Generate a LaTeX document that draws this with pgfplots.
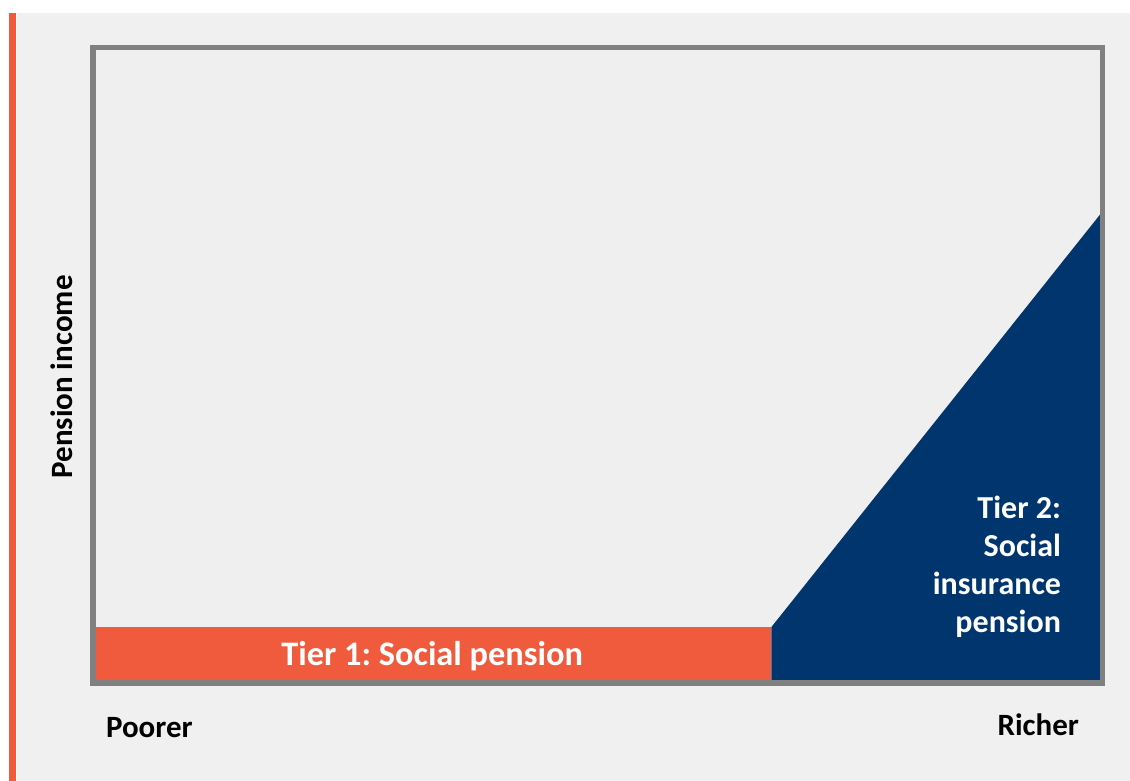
\documentclass[border=0pt]{standalone}
\usepackage{pgfplots}
\pgfplotsset{compat=1.18}
\usepackage{fontspec}
\setmainfont{Carlito}
\frenchspacing
\definecolor{tierorange}{RGB}{240,91,61}
\definecolor{tiernavy}{RGB}{0,53,110}
\definecolor{panelgray}{RGB}{240,240,240}
\definecolor{innergray}{RGB}{239,239,239}
\definecolor{bordergray}{RGB}{128,128,128}
\begin{document}
\begin{tikzpicture}[x=1pt,y=1pt]
\fill[white] (0,0) rectangle (565,390.5);
\fill[panelgray] (8.5,0) rectangle (565,384);
\fill[tierorange] (4.5,0) rectangle (8,384);
\begin{axis}[
  at={(46.5pt,49pt)}, anchor=south west,
  scale only axis, width=504.75pt, height=317.75pt,
  xmin=0, xmax=100, ymin=0, ymax=100,
  xtick=\empty, ytick=\empty,
  axis on top=true,
  axis line style={bordergray, line width=2.6pt},
  axis background/.style={fill=innergray},
  clip=true,
]
\addplot[fill=tierorange, draw=none] coordinates {(0,8.8) (67.2,8.8)} \closedcycle;
\addplot[fill=tiernavy, draw=none] coordinates {(67.2,8.8) (100,74.2)} \closedcycle;
\node[text=white, font=\bfseries\fontsize{17.2}{20}\selectfont] at (axis cs:33.6,4.2) {Tier 1: Social pension};
\end{axis}
\node[text=white, font=\bfseries\fontsize{16}{19}\selectfont, align=right, anchor=east] at (534,107) {Tier 2:\\Social\\insurance\\pension};
\node[rotate=90, font=\bfseries\fontsize{15.5}{18}\selectfont] at (31,202) {Pension income};
\node[anchor=west, font=\bfseries\fontsize{15.5}{18}\selectfont] at (49.5,26.5) {Poorer};
\node[anchor=east, font=\bfseries\fontsize{15.5}{18}\selectfont] at (543,28) {Richer};
\end{tikzpicture}
\end{document}
